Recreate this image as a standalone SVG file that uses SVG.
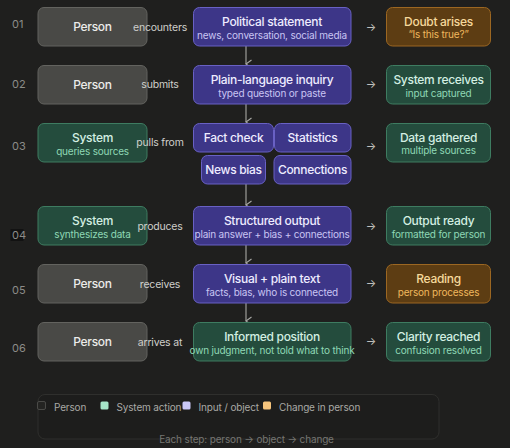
<svg xmlns="http://www.w3.org/2000/svg" width="510" height="448" viewBox="0 0 510 448">
<defs>
<marker id="ah" markerWidth="10" markerHeight="8" refX="5" refY="6.5" orient="auto-start-reverse" markerUnits="userSpaceOnUse" viewBox="0 0 10 8">
<path d="M1,1 L5,6.5 L9,1" fill="none" stroke="#a8a8a4" stroke-width="1.1"/>
</marker>
<style>
text{font-family:Inter,"Noto Sans","Liberation Sans",sans-serif;}
.num{font-size:11px;fill:#8c8c88;}
.lbl{font-size:10.5px;fill:#cfcfcb;text-anchor:middle;letter-spacing:-0.2px;}
.arr{font-size:11px;fill:#c0c0bc;text-anchor:middle;}
.t{font-size:12px;font-weight:500;text-anchor:middle;letter-spacing:-0.3px;}
.s{font-size:10px;text-anchor:middle;letter-spacing:-0.2px;}
.person rect{fill:#494946;stroke:#63635f;stroke-width:1;}
.person text{fill:#ececea;}
.sys rect{fill:#244c3d;stroke:#3e7c61;stroke-width:1;}
.sys .t{fill:#d3efe2;}
.sys .s{fill:#8fd8b5;}
.inp rect{fill:#3d3688;stroke:#6961c4;stroke-width:1;}
.inp .t{fill:#eeecff;}
.inp .s{fill:#c9c5f3;}
.chg rect{fill:#5d3d13;stroke:#9c6722;stroke-width:1;}
.chg .t{fill:#f6d99c;}
.chg .s{fill:#f0b85e;}
.leg{font-size:10px;fill:#a9a9a5;letter-spacing:-0.15px;}
</style>
</defs>
<rect x="0" y="0" width="510" height="448" fill="#1f1f1e"/>

<!-- row numbers -->
<g id="numbers">
<text class="num" x="12" y="28">01</text>
<text class="num" x="12" y="88">02</text>
<text class="num" x="12" y="149.5">03</text>
<rect x="10.5" y="229" width="13" height="12" fill="#121212"/>
<text class="num" x="12" y="239">04</text>
<text class="num" x="12" y="294">05</text>
<text class="num" x="12" y="351.5">06</text>
</g>

<!-- connectors -->
<g id="connectors" stroke="#a8a8a4" stroke-width="1.1" fill="none">
<line x1="246" y1="46" x2="246" y2="64" marker-end="url(#ah)"/>
<line x1="246" y1="104" x2="246" y2="122" marker-end="url(#ah)"/>
<line x1="246" y1="184" x2="246" y2="205" marker-end="url(#ah)"/>
<line x1="246" y1="245" x2="246" y2="263" marker-end="url(#ah)"/>
<line x1="246" y1="303" x2="246" y2="321" marker-end="url(#ah)"/>
</g>

<!-- row 1 -->
<g id="person1" class="person"><rect x="38" y="7.5" width="109" height="38.5" rx="6"/><text class="t" x="92.5" y="31">Person</text></g>
<g id="statement" class="inp"><rect x="193.5" y="7.5" width="157.5" height="38.5" rx="6"/><text class="t" x="272" y="26">Political statement</text><text class="s" x="272" y="38.5">news, conversation, social media</text></g>
<g id="doubt" class="chg"><rect x="386.5" y="7.5" width="104" height="38.5" rx="6"/><text class="t" x="438.5" y="25.5">Doubt arises</text><text class="s" x="438.5" y="38">“Is this true?”</text></g>

<!-- row 2 -->
<g id="person2" class="person"><rect x="38" y="65.5" width="109" height="38.5" rx="6"/><text class="t" x="92.5" y="89">Person</text></g>
<g id="inquiry" class="inp"><rect x="193.5" y="65.5" width="157.5" height="38.5" rx="6"/><text class="t" x="272" y="84">Plain-language inquiry</text><text class="s" x="272" y="96.5">typed question or paste</text></g>
<g id="receives" class="sys"><rect x="386.5" y="65.5" width="104" height="38.5" rx="6"/><text class="t" x="438.5" y="84">System receives</text><text class="s" x="438.5" y="96.5">input captured</text></g>

<!-- row 3 -->
<g id="system3" class="sys"><rect x="38" y="123.5" width="109" height="38.5" rx="6"/><text class="t" x="92.5" y="142">System</text><text class="s" x="92.5" y="154.5">queries sources</text></g>
<g id="factcheck" class="inp"><rect x="193.5" y="123.5" width="80" height="28.5" rx="6"/><text class="t" x="233.5" y="142">Fact check</text></g>
<g id="statistics" class="inp"><rect x="274.5" y="123.5" width="76.5" height="28.5" rx="6"/><text class="t" x="312.5" y="142">Statistics</text></g>
<g id="newsbias" class="inp"><rect x="201.5" y="155.5" width="64" height="28.5" rx="6"/><text class="t" x="233.5" y="174">News bias</text></g>
<g id="connections" class="inp"><rect x="274" y="155.5" width="77" height="28.5" rx="6"/><text class="t" x="312.5" y="174">Connections</text></g>
<g id="gathered" class="sys"><rect x="386.5" y="123.5" width="104" height="38.5" rx="6"/><text class="t" x="438.5" y="141.5">Data gathered</text><text class="s" x="438.5" y="154">multiple sources</text></g>

<!-- row 4 -->
<g id="system4" class="sys"><rect x="38" y="206.5" width="109" height="38.5" rx="6"/><text class="t" x="92.5" y="225">System</text><text class="s" x="92.5" y="238">synthesizes data</text></g>
<g id="output" class="inp"><rect x="193.5" y="206.5" width="157.5" height="38.5" rx="6"/><text class="t" x="272" y="225">Structured output</text><text class="s" x="272" y="238">plain answer + bias + connections</text></g>
<g id="ready" class="sys"><rect x="386.5" y="206.5" width="104" height="38.5" rx="6"/><text class="t" x="438.5" y="225">Output ready</text><text class="s" x="438.5" y="238">formatted for person</text></g>

<!-- row 5 -->
<g id="person5" class="person"><rect x="38" y="264.5" width="109" height="38.5" rx="6"/><text class="t" x="92.5" y="288">Person</text></g>
<g id="visual" class="inp"><rect x="193.5" y="264.5" width="157.5" height="38.5" rx="6"/><text class="t" x="272" y="283">Visual + plain text</text><text class="s" x="272" y="296">facts, bias, who is connected</text></g>
<g id="reading" class="chg"><rect x="386.5" y="264.5" width="104" height="38.5" rx="6"/><text class="t" x="438.5" y="283">Reading</text><text class="s" x="438.5" y="296">person processes</text></g>

<!-- row 6 -->
<g id="person6" class="person"><rect x="38" y="322.5" width="109" height="38.5" rx="6"/><text class="t" x="92.5" y="346">Person</text></g>
<g id="informed" class="sys"><rect x="193.5" y="322.5" width="157.5" height="38.5" rx="6"/><text class="t" x="272" y="341">Informed position</text><text class="s" x="272" y="354">own judgment, not told what to think</text></g>
<g id="clarity" class="sys"><rect x="386.5" y="322.5" width="104" height="38.5" rx="6"/><text class="t" x="438.5" y="341">Clarity reached</text><text class="s" x="438.5" y="354">confusion resolved</text></g>

<!-- connector labels (drawn on top) -->
<g id="connector-labels">
<text class="lbl" x="160" y="30.5">encounters</text>
<text class="lbl" x="160" y="88">submits</text>
<text class="lbl" x="160" y="146">pulls from</text>
<text class="lbl" x="160" y="230">produces</text>
<text class="lbl" x="160" y="287.5">receives</text>
<text class="lbl" x="160" y="345.5">arrives at</text>
<text class="arr" x="371" y="30.5">→</text>
<text class="arr" x="371" y="88">→</text>
<text class="arr" x="371" y="149.5">→</text>
<text class="arr" x="371" y="230">→</text>
<text class="arr" x="371" y="287">→</text>
<text class="arr" x="371" y="345">→</text>
</g>

<!-- legend -->
<g id="legend">
<rect x="38" y="394.5" width="401" height="44.5" rx="7" fill="#1d1d1c" stroke="#2f2f2d" stroke-width="1"/>
<rect x="37.5" y="401.5" width="8" height="8" rx="1.5" fill="#242422" stroke="#4a4a47" stroke-width="1"/>
<text class="leg" x="54" y="410.5">Person</text>
<rect x="100.5" y="401.5" width="8" height="8" rx="1.5" fill="#a6e4c8"/>
<text class="leg" x="116.5" y="410.5">System action</text>
<rect x="182.5" y="401.5" width="8" height="8" rx="1.5" fill="#cbc7f6"/>
<text class="leg" x="198.5" y="410.5">Input / object</text>
<rect x="263" y="401.5" width="8" height="8" rx="1.5" fill="#f6c47c"/>
<text class="leg" x="279" y="410.5">Change in person</text>
<text x="246.5" y="443" font-size="10" fill="#767672" text-anchor="middle" letter-spacing="-0.15">Each step: person → object → change</text>
</g>
</svg>
